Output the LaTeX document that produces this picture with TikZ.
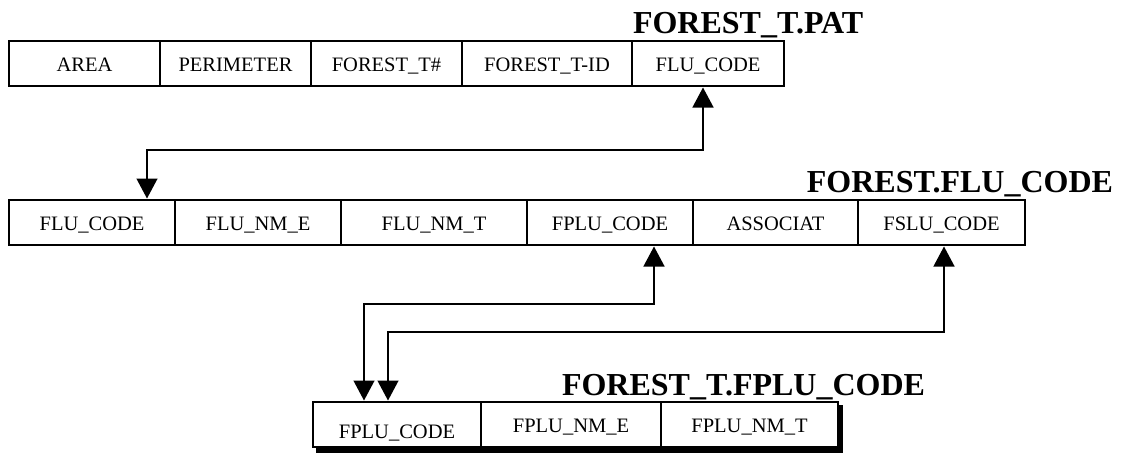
\documentclass[tikz,border=0pt]{standalone}
\usepackage{fontspec}
\setmainfont{Liberation Serif}
\usetikzlibrary{arrows.meta,calc}
\tikzset{
  cell/.style={draw, line width=2pt, fill=white, outer sep=0pt, inner sep=0pt,
    minimum height=45pt, text height=15pt, text depth=0pt,
    font=\fontsize{20.5}{24}\selectfont},
  ttl/.style={inner sep=0pt, outer sep=0pt, font=\fontsize{32}{36}\selectfont\bfseries},
  link/.style={line width=1.3pt, {Triangle[width=21pt,length=20pt]}-{Triangle[width=21pt,length=20pt]},
    shorten <=1.5pt, shorten >=1.5pt}
}
\begin{document}
\begin{tikzpicture}[x=1pt,y=-1pt]
\useasboundingbox (0,0) rectangle (1132,453);
% top table FOREST_T.PAT
\node[cell, minimum width=151pt] (t1) at (84.5,63.5) {AREA};
\node[cell, minimum width=151pt] (t2) at (235.5,63.5) {PERIMETER};
\node[cell, minimum width=151pt] (t3) at (386.5,63.5) {FOREST\_T\#};
\node[cell, minimum width=170pt] (t4) at (547,63.5) {FOREST\_T-ID};
\node[cell, minimum width=152pt] (t5) at (708,63.5) {FLU\_CODE};
\node[ttl, anchor=base west] (tt) at (633,33) {FOREST\_T.PAT};
% middle table FOREST.FLU_CODE
\node[cell, minimum width=166pt] (m1) at (92,222.5) {FLU\_CODE};
\node[cell, minimum width=166pt] (m2) at (258,222.5) {FLU\_NM\_E};
\node[cell, minimum width=186pt] (m3) at (434,222.5) {FLU\_NM\_T};
\node[cell, minimum width=166pt] (m4) at (610,222.5) {FPLU\_CODE};
\node[cell, minimum width=165pt] (m5) at (775.5,222.5) {ASSOCIAT};
\node[cell, minimum width=167pt] (m6) at (941.5,222.5) {FSLU\_CODE};
\node[ttl, anchor=base east] (mt) at (1113,192) {FOREST.FLU\_CODE};
% bottom table FOREST_T.FPLU_CODE
\fill[black] (316,405) rectangle (843,453);
\node[cell, minimum width=168pt] (b1) at (397,424.5) {\raisebox{-6pt}{FPLU\_CODE}};
\node[cell, minimum width=180pt] (b2) at (571,424.5) {FPLU\_NM\_E};
\node[cell, minimum width=177pt] (b3) at (749.5,424.5) {FPLU\_NM\_T};
\node[ttl, anchor=base west] (bt) at (562,395) {FOREST\_T.FPLU\_CODE};
% connectors
\draw[link] ($(t5.south)+(-5,0)$) -- ++(0,64) -| ($(m1.north)+(55,0)$);
\draw[link] ($(m4.south)+(44,0)$) -- ++(0,59) -| ($(b1.north)+(-33,0)$);
\draw[link] ($(m6.south)+(2.5,0)$) -- ++(0,87) -| ($(b1.north)+(-9,0)$);
\end{tikzpicture}
\end{document}
